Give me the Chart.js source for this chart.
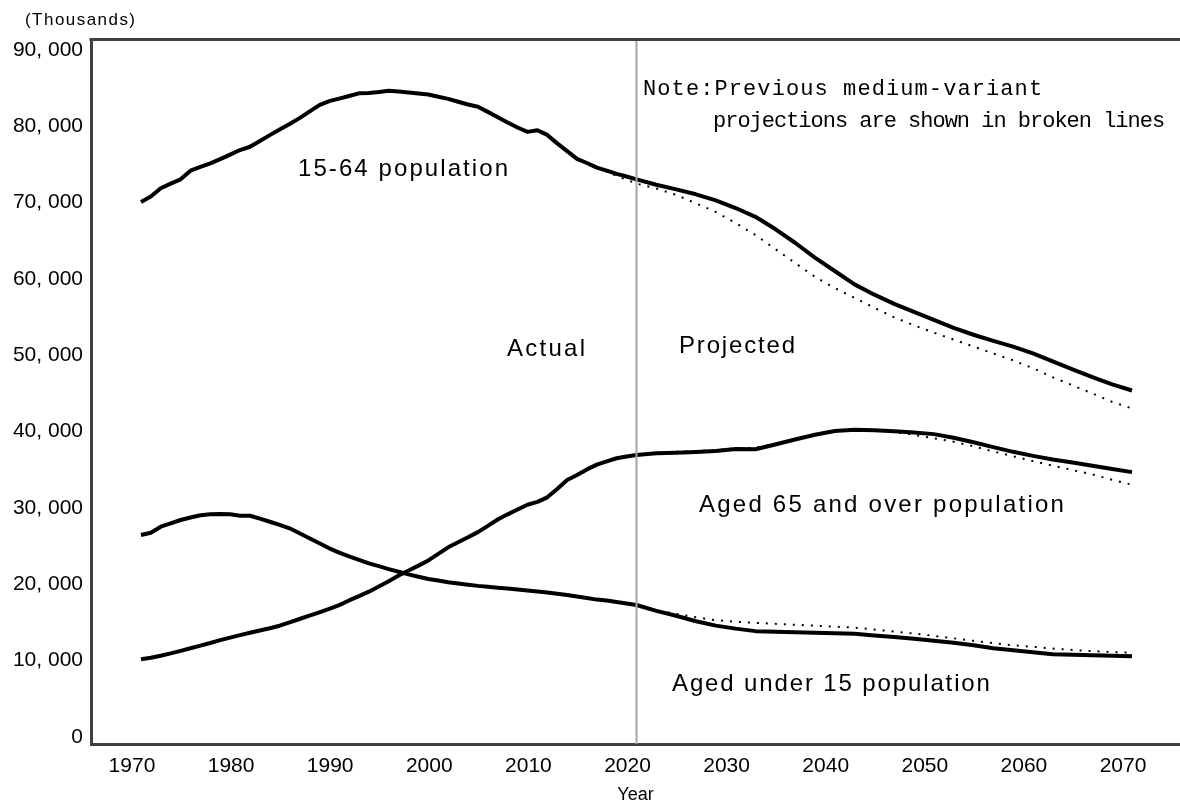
<!DOCTYPE html>
<html>
<head>
<meta charset="utf-8">
<script src="https://cdn.jsdelivr.net/npm/chart.js@4.4.1/dist/chart.umd.min.js"></script>
<style>
html,body{margin:0;padding:0;background:#fff;}
#wrap{width:1180px;height:808px;position:relative;}
canvas{display:block;}
</style>
</head>
<body>
<div id="wrap"><canvas id="c" width="1180" height="808"></canvas></div>
<script>
// ---- data (thousands) ----
const years = [
  1970,1971,1972,1973,1974,1975,1976,1977,1978,1979,
  1980,1981,1982,1983,1984,1985,1986,1987,1988,1989,
  1990,1991,1992,1993,1994,1995,1996,1997,1998,1999,
  2000,2001,2002,2003,2004,2005,2006,2007,2008,2009,
  2010,2011,2012,2013,2014,2015,2016,2017,2018,2019,
  2020,2022,2024,2026,2028,2030,2032,2034,2036,2038,
  2040,2042,2044,2046,2048,2050,2052,2054,2056,2058,
  2060,2062,2064,2066,2068,2070
];
const workingAge = [
  70100,70800,71900,72500,73060,74200,74700,75150,75700,76300,
  76900,77330,78090,78850,79590,80320,81080,81940,82790,83300,
  83640,83980,84330,84370,84500,84670,84560,84440,84320,84170,
  83880,83600,83220,82870,82570,81900,81200,80500,79850,79280,
  79500,78880,77770,76750,75750,75200,74590,74200,73780,73430,
  73050,72350,71750,71100,70300,69300,68150,66550,64750,62800,
  61050,59300,57950,56750,55700,54650,53600,52700,51900,51150,
  50250,49200,48150,47150,46200,45400
];
const elderly = [
  10180,10380,10650,10960,11290,11630,11970,12310,12690,13020,
  13340,13660,13950,14240,14580,15020,15460,15890,16330,16800,
  17280,17890,18450,19040,19720,20420,21150,21820,22450,23130,
  23990,24850,25510,26160,26840,27660,28490,29170,29810,30430,
  30800,31400,32500,33670,34320,35060,35680,36120,36520,36750,
  36940,37170,37250,37340,37480,37740,37700,38320,38970,39600,
  40100,40250,40200,40050,39880,39680,39200,38620,37970,37360,
  36830,36350,35950,35530,35100,34700
];
const children = [
  26460,26760,27550,28000,28430,28750,29050,29180,29210,29170,
  29000,28990,28600,28200,27800,27340,26700,26030,25380,24720,
  24150,23650,23200,22750,22380,22000,21650,21300,21000,20700,
  20500,20280,20120,19950,19800,19680,19560,19450,19320,19190,
  19060,18920,18760,18600,18400,18200,18000,17890,17700,17500,
  17290,16520,15890,15160,14590,14200,13870,13790,13720,13660,
  13590,13520,13310,13090,12870,12620,12350,12020,11630,11370,
  11110,10850,10780,10700,10640,10580
];
// previous medium-variant projections (broken lines)
const prevYears = [
  2016,2018,2020,2022,2024,2026,2028,2030,2032,2034,
  2036,2038,2040,2042,2044,2046,2048,2050,2052,2054,
  2056,2058,2060,2062,2064,2066,2068,2070
];
const prevWorkingAge = [
  74600,73500,72500,71860,71030,69910,68790,67330,65770,63930,
  62110,60290,58820,57530,56230,54980,53940,52970,52070,51150,
  50240,49340,48310,47140,46070,45010,43900,43050
];
const prevElderly = [
  35700,36550,37000,37250,37380,37480,37620,37800,37900,38400,
  39000,39600,40100,40250,40200,39950,39580,39130,38690,38070,
  37420,36780,36150,35550,34970,34400,33700,33050
];
const prevChildren = [
  18000,17700,17300,16620,16120,15680,15300,15100,14960,14830,
  14700,14580,14450,14330,14080,13810,13550,13250,12930,12600,
  12300,12020,11820,11590,11400,11250,11130,11050
];
const xTicks = [1970,1980,1990,2000,2010,2020,2030,2040,2050,2060,2070];
const yTicks = [0,10000,20000,30000,40000,50000,60000,70000,80000,90000];
const dividerYear = 2020;

// ---- helpers ----
const pts = (xs, vs) => xs.map((x, i) => ({x: x, y: vs[i]}));
const solid = (label, vs) => ({label, data: pts(years, vs), borderColor:'#000', borderWidth:4,
  pointRadius:0, tension:0, fill:false, borderJoinStyle:'round', borderCapStyle:'butt', order:1});
const dotted = (label, vs) => ({label, data: pts(prevYears, vs), borderColor:'#000', borderWidth:2,
  borderDash:[2,7], pointRadius:0, tension:0, fill:false, borderCapStyle:'butt', order:2});

function fitText(ctx, text, x, y, w, font) {
  ctx.save();
  ctx.font = font;
  try { ctx.letterSpacing = '0px'; } catch(e) {}
  const m = ctx.measureText(text).width;
  const ls = (w - m) / Math.max(1, text.length - 1);
  try { ctx.letterSpacing = ls.toFixed(2) + 'px'; } catch(e) {}
  ctx.fillStyle = '#000';
  ctx.textAlign = 'left';
  ctx.textBaseline = 'middle';
  ctx.fillText(text, x, y);
  ctx.restore();
}

const SANS = '"Liberation Sans", Arial, sans-serif';
const MONO = '"Liberation Mono", "DejaVu Sans Mono", monospace';

const decor = {
  id: 'decor',
  afterDatasetsDraw(chart) {
    const {ctx, chartArea: a, scales} = chart;
    const xd = Math.round(scales.x.getPixelForValue(dividerYear)) + 0.5;
    ctx.save();
    ctx.strokeStyle = '#a6a6a6';
    ctx.lineWidth = 2;
    ctx.beginPath();
    ctx.moveTo(xd, a.top);
    ctx.lineTo(xd, a.bottom);
    ctx.stroke();
    // top frame line
    ctx.strokeStyle = '#404040';
    ctx.lineWidth = 3;
    ctx.beginPath();
    ctx.moveTo(a.left - 1.5, a.top + 0.5);
    ctx.lineTo(a.right, a.top + 0.5);
    ctx.stroke();
    ctx.restore();
  },
  afterDraw(chart) {
    const ctx = chart.ctx;
    fitText(ctx, '(Thousands)', 25, 20, 110, '17px ' + SANS);
    fitText(ctx, 'Note:Previous medium-variant', 643, 89, 399, '22px ' + MONO);
    fitText(ctx, 'projections are shown in broken lines', 713, 121, 452, '22px ' + MONO);
    fitText(ctx, '15-64 population', 298, 169, 210, '24px ' + SANS);
    fitText(ctx, 'Actual', 507, 349, 78, '24px ' + SANS);
    fitText(ctx, 'Projected', 679, 346, 116, '24px ' + SANS);
    fitText(ctx, 'Aged 65 and over population', 699, 505, 365, '24px ' + SANS);
    fitText(ctx, 'Aged under 15 population', 672, 684, 318, '24px ' + SANS);
  }
};

new Chart(document.getElementById('c'), {
  type: 'line',
  data: {
    datasets: [
      dotted('15-64 population (previous)', prevWorkingAge),
      dotted('Aged 65 and over population (previous)', prevElderly),
      dotted('Aged under 15 population (previous)', prevChildren),
      solid('15-64 population', workingAge),
      solid('Aged 65 and over population', elderly),
      solid('Aged under 15 population', children)
    ]
  },
  options: {
    responsive: false,
    animation: false,
    devicePixelRatio: 1,
    layout: {padding: {top: 39, right: 0, left: 0, bottom: 0}},
    plugins: {legend: {display: false}, tooltip: {enabled: false}, title: {display: false}},
    scales: {
      x: {
        type: 'linear',
        min: 1964.96,
        max: 2074.84,
        grid: {display: false, drawTicks: false},
        border: {display: true, color: '#404040', width: 3},
        afterBuildTicks: s => { s.ticks = xTicks.map(v => ({value: v})); },
        afterFit: s => { s.height = 64; },
        ticks: {
          autoSkip: false, maxRotation: 0, minRotation: 0,
          color: '#000', padding: 10, labelOffset: -9,
          font: {family: SANS, size: 21},
          callback: v => String(v)
        },
        title: {display: true, text: 'Year', color: '#000',
          font: {family: SANS, size: 18}, padding: {top: 0, bottom: 2}}
      },
      y: {
        min: -917,
        max: 91446,
        grid: {display: false, drawTicks: false},
        border: {display: true, color: '#404040', width: 3},
        afterBuildTicks: s => { s.ticks = yTicks.map(v => ({value: v})); },
        afterFit: s => { s.width = 91; },
        ticks: {
          color: '#000', padding: 8,
          font: {family: SANS, size: 21},
          callback: v => v === 0 ? '0' : v.toLocaleString('en-US').replace(',', ', ')
        }
      }
    }
  },
  plugins: [decor]
});
</script>
</body>
</html>
